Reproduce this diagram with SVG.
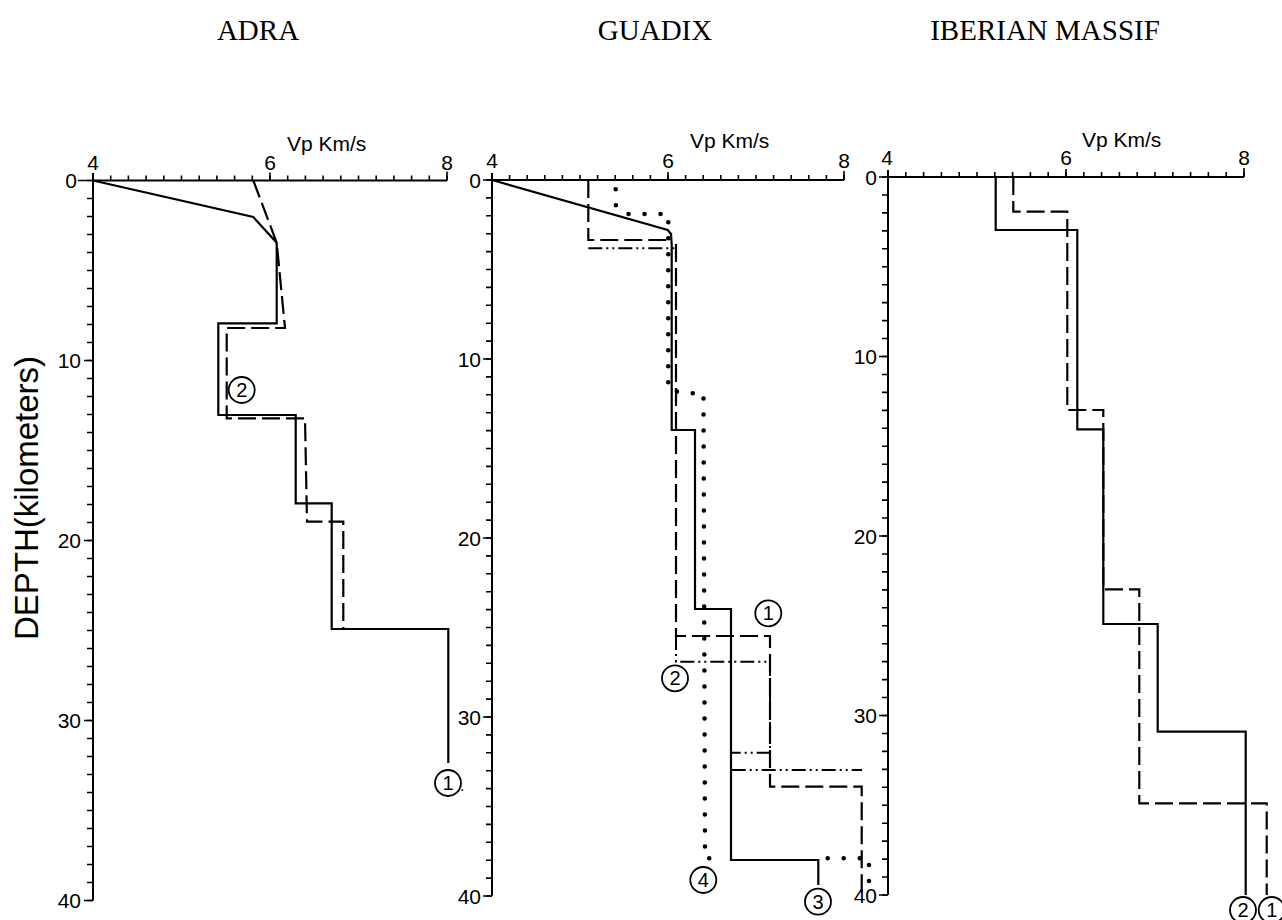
<svg xmlns="http://www.w3.org/2000/svg" width="1282" height="920" viewBox="0 0 1282 920">
<style>
.ax{stroke:#000;stroke-width:2;fill:none}
.tk{stroke:#000;stroke-width:1.6;fill:none}
.sol{stroke:#000;stroke-width:2.2;fill:none;stroke-linejoin:miter}
.dash{stroke:#000;stroke-width:2.2;fill:none;stroke-dasharray:18 6}
.dd{stroke:#000;stroke-width:2;fill:none;stroke-dasharray:14 4 2 4 2 4}
.dot{stroke:#000;stroke-width:4.6;fill:none;stroke-dasharray:0 16;stroke-linecap:round}
.num{font-family:"Liberation Sans",Arial,sans-serif;font-size:21px;fill:#000}
.yl{text-anchor:end}
.xl{text-anchor:middle}
.title{font-family:"Liberation Serif","Times New Roman",serif;font-size:29px;fill:#000;text-anchor:middle}
.cl circle{fill:none;stroke:#000;stroke-width:1.8}
.cl text{font-family:"Liberation Sans",Arial,sans-serif;font-size:20px;text-anchor:middle;fill:#000}
</style>
<rect width="1282" height="920" fill="#fff"/>
<g id="titles">
<text class="title" x="258" y="40">ADRA</text>
<text class="title" x="655" y="40">GUADIX</text>
<text class="title" x="1045" y="40">IBERIAN MASSIF</text>
</g>
<text id="ylabel" class="num" style="font-size:33px" text-anchor="middle" transform="translate(38,498) rotate(-90)">DEPTH(kilometers)</text>

<g id="adra">
<path class="ax" d="M93,173V900.5M93,180.5H447"/>
<path class="tk" d="M93,180.5v-5m17.7,5v-5m17.7,5v-5m17.7,5v-5m17.7,5v-5m17.7,5v-5m17.7,5v-5m17.7,5v-5m17.7,5v-5m17.7,5v-5m17.7,5v-5m17.7,5v-5m17.7,5v-5m17.7,5v-5m17.7,5v-5m17.7,5v-5m17.7,5v-5m17.7,5v-5m17.7,5v-5m17.7,5v-5m17.7,5v-5"/>
<path class="tk" d="M270,180.5v-8M447,180.5v-9"/>
<path class="tk" d="M93,180.5h-6m6,18h-6m6,18h-6m6,18h-6m6,18h-6m6,18h-6m6,18h-6m6,18h-6m6,18h-6m6,18h-6m6,18h-6m6,18h-6m6,18h-6m6,18h-6m6,18h-6m6,18h-6m6,18h-6m6,18h-6m6,18h-6m6,18h-6m6,18h-6m6,18h-6m6,18h-6m6,18h-6m6,18h-6m6,18h-6m6,18h-6m6,18h-6m6,18h-6m6,18h-6m6,18h-6m6,18h-6m6,18h-6m6,18h-6m6,18h-6m6,18h-6m6,18h-6m6,18h-6m6,18h-6m6,18h-6m6,18h-6"/>
<path class="tk" d="M93,180.5h-15M93,360.5h-9M93,540.5h-9M93,720.5h-9M93,900.5h-9"/>
<text class="num yl" x="77" y="188">0</text>
<text class="num yl" x="81" y="368">10</text>
<text class="num yl" x="81" y="548">20</text>
<text class="num yl" x="81" y="728">30</text>
<text class="num yl" x="81" y="908">40</text>
<text class="num xl" x="93" y="170">4</text>
<text class="num xl" x="270" y="170">6</text>
<text class="num xl" x="447" y="170">8</text>
<text class="num" x="287" y="151">Vp Km/s</text>
</g>

<g id="guadix">
<path class="ax" d="M492,173V896M492,180H844"/>
<path class="tk" d="M492,180v-5m17.6,5v-5m17.6,5v-5m17.6,5v-5m17.6,5v-5m17.6,5v-5m17.6,5v-5m17.6,5v-5m17.6,5v-5m17.6,5v-5m17.6,5v-5m17.6,5v-5m17.6,5v-5m17.6,5v-5m17.6,5v-5m17.6,5v-5m17.6,5v-5m17.6,5v-5m17.6,5v-5m17.6,5v-5m17.6,5v-5"/>
<path class="tk" d="M668,180v-8M844,180v-9"/>
<path class="tk" d="M492,180h-6m6,17.9h-6m6,17.9h-6m6,17.9h-6m6,17.9h-6m6,17.9h-6m6,17.9h-6m6,17.9h-6m6,17.9h-6m6,17.9h-6m6,17.9h-6m6,17.9h-6m6,17.9h-6m6,17.9h-6m6,17.9h-6m6,17.9h-6m6,17.9h-6m6,17.9h-6m6,17.9h-6m6,17.9h-6m6,17.9h-6m6,17.9h-6m6,17.9h-6m6,17.9h-6m6,17.9h-6m6,17.9h-6m6,17.9h-6m6,17.9h-6m6,17.9h-6m6,17.9h-6m6,17.9h-6m6,17.9h-6m6,17.9h-6m6,17.9h-6m6,17.9h-6m6,17.9h-6m6,17.9h-6m6,17.9h-6m6,17.9h-6m6,17.9h-6m6,17.9h-6"/>
<path class="tk" d="M492,180h-9M492,359h-9M492,538h-9M492,717h-9M492,896h-9"/>
<text class="num yl" x="481" y="187.5">0</text>
<text class="num yl" x="481" y="366.5">10</text>
<text class="num yl" x="481" y="545.5">20</text>
<text class="num yl" x="481" y="724.5">30</text>
<text class="num yl" x="481" y="903.5">40</text>
<text class="num xl" x="492" y="168">4</text>
<text class="num xl" x="668" y="168">6</text>
<text class="num xl" x="844" y="168">8</text>
<text class="num" x="690" y="148">Vp Km/s</text>
</g>

<g id="iberian">
<path class="ax" d="M888,170V895M888,177H1244"/>
<path class="tk" d="M888,177v-5m17.8,5v-5m17.8,5v-5m17.8,5v-5m17.8,5v-5m17.8,5v-5m17.8,5v-5m17.8,5v-5m17.8,5v-5m17.8,5v-5m17.8,5v-5m17.8,5v-5m17.8,5v-5m17.8,5v-5m17.8,5v-5m17.8,5v-5m17.8,5v-5m17.8,5v-5m17.8,5v-5m17.8,5v-5m17.8,5v-5"/>
<path class="tk" d="M1066,177v-8M1244,177v-9"/>
<path class="tk" d="M888,177h-6m6,17.95h-6m6,17.95h-6m6,17.95h-6m6,17.95h-6m6,17.95h-6m6,17.95h-6m6,17.95h-6m6,17.95h-6m6,17.95h-6m6,17.95h-6m6,17.95h-6m6,17.95h-6m6,17.95h-6m6,17.95h-6m6,17.95h-6m6,17.95h-6m6,17.95h-6m6,17.95h-6m6,17.95h-6m6,17.95h-6m6,17.95h-6m6,17.95h-6m6,17.95h-6m6,17.95h-6m6,17.95h-6m6,17.95h-6m6,17.95h-6m6,17.95h-6m6,17.95h-6m6,17.95h-6m6,17.95h-6m6,17.95h-6m6,17.95h-6m6,17.95h-6m6,17.95h-6m6,17.95h-6m6,17.95h-6m6,17.95h-6m6,17.95h-6m6,17.95h-6"/>
<path class="tk" d="M888,177h-9M888,356.5h-9M888,536h-9M888,715.5h-9M888,895h-9"/>
<text class="num yl" x="877" y="184.5">0</text>
<text class="num yl" x="877" y="364">10</text>
<text class="num yl" x="877" y="543.5">20</text>
<text class="num yl" x="877" y="723">30</text>
<text class="num yl" x="877" y="902.5">40</text>
<text class="num xl" x="887" y="165">4</text>
<text class="num xl" x="1066" y="165">6</text>
<text class="num xl" x="1244" y="165">8</text>
<text class="num" x="1082" y="147">Vp Km/s</text>
</g>

<g id="connectors">
<path class="sol" d="M93,180.5L253.3,217L276.7,242.7V323.3H218.3V415H295.7V503.3H331.7V629H448.3V763"/>
<path class="dash" d="M253.3,180.5L276.7,242.7L285,328H226.7V418.3H305L307,521.7H343.3V629"/>

<path class="sol" d="M492,180L667.7,230L671,234L671.7,245V430H695V609H731V860H818.3V885"/>
<path class="dash" d="M588.3,180V240H671.7M676,244V636H770V786.7H861.7V893"/>
<path class="dd" d="M588.3,248.3H676M676,636V661.7H770V752.7H731.7M731.7,770H862"/>
<path class="dot" d="M615.7,189.3V205L625.7,214H668.3V389.3L683.3,393.3H703.5L705,858.3H722.7"/>
<path class="dot" d="M827.7,858.3H869V893"/>

<path class="sol" d="M995.7,177V230H1077.3V429.3H1103.3V624H1157.7V731.7H1245.7V895"/>
<path class="dash" d="M1013.3,177V211.7H1067.3V410H1103.3V589.3H1139.3V803.3H1266.7V895"/>
</g>

<g id="label-adra-1" class="cl"><circle cx="448" cy="783" r="13"/><text x="448" y="790">1</text></g>
<text class="num" x="460" y="791" style="font-size:16px">.</text>
<g id="label-adra-2" class="cl"><circle cx="241.7" cy="390" r="13"/><text x="241.7" y="397">2</text></g>
<g id="label-guadix-1" class="cl"><circle cx="768.3" cy="613.3" r="13"/><text x="768.3" y="620.3">1</text></g>
<g id="label-guadix-2" class="cl"><circle cx="675" cy="678.3" r="13"/><text x="675" y="685.3">2</text></g>
<g id="label-guadix-3" class="cl"><circle cx="818" cy="901.7" r="13"/><text x="818" y="908.7">3</text></g>
<g id="label-guadix-4" class="cl"><circle cx="703.3" cy="880" r="13"/><text x="703.3" y="887">4</text></g>
<g id="label-iberian-2" class="cl"><circle cx="1243" cy="910" r="13"/><text x="1243" y="917">2</text></g>
<g id="label-iberian-1" class="cl"><circle cx="1271.7" cy="910" r="13"/><text x="1271.7" y="917">1</text></g>
</svg>
